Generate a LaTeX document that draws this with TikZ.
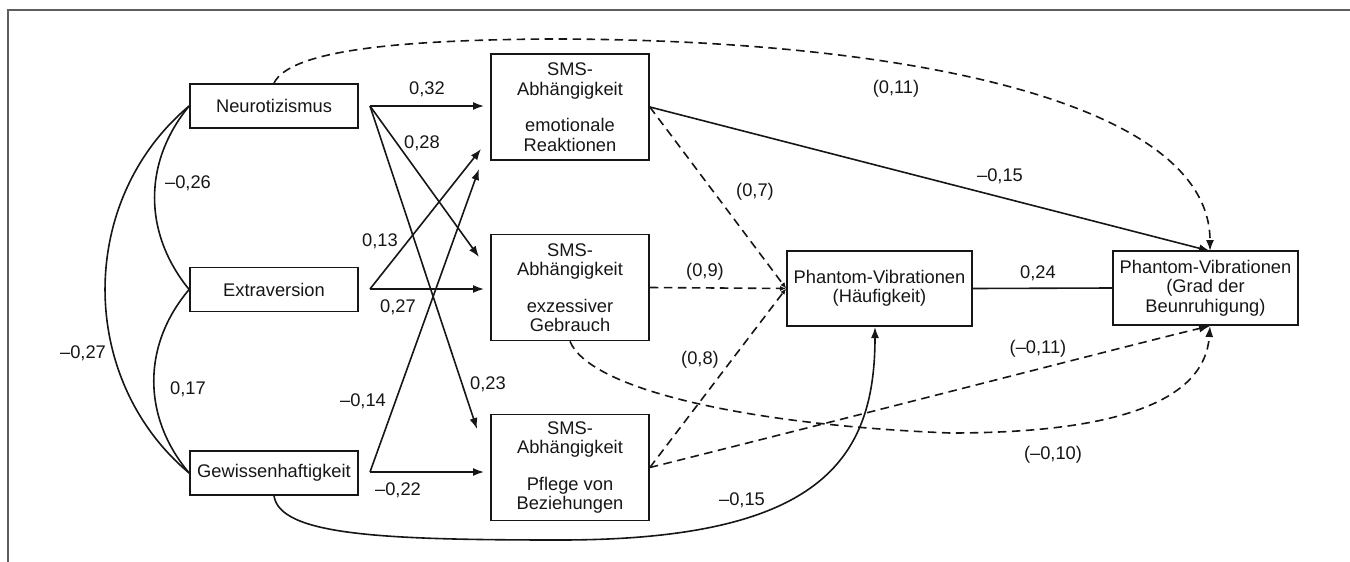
\documentclass[tikz,border=0pt]{standalone}
\usepackage{fontspec}
\setmainfont{Liberation Sans}
\usetikzlibrary{arrows.meta}
\definecolor{ink}{HTML}{161616}
\definecolor{framegray}{HTML}{5E5E5E}
\begin{document}
\begin{tikzpicture}[x=1pt,y=-1pt,
  every node/.style={text=ink},
  box/.style={draw=ink, line width=1.7pt, inner sep=0pt, align=center,
    font=\fontsize{18.3}{19.5}\selectfont},
  varbox/.style={box, minimum width=168pt, minimum height=44pt},
  smsbox/.style={box, minimum width=158pt, minimum height=106pt},
  phbox/.style={box, minimum width=185pt, minimum height=75pt},
  lbl/.style={inner sep=0pt, font=\fontsize{18.3}{19.5}\selectfont,
    text height=12.9pt, text depth=0pt},
  con/.style={draw=ink, line width=1.6pt},
  arr/.style={con, -{Latex[length=11pt,width=8pt]}},
  dsh/.style={con, dash pattern=on 8.5pt off 5.5pt},
  darr/.style={dsh, -{Latex[length=11pt,width=8pt]}},
  dsmall/.style={dsh, -{Latex[length=6pt,width=5pt]}},
  frameline/.style={draw=framegray, line width=1.6pt}
]
\useasboundingbox (0,0) rectangle (1350,562);
\draw[frameline] (1350,10) -- (8,10) -- (8,562);

% nodes
\node[varbox] (N) at (274,106) {Neurotizismus};
\node[varbox] (E) at (274,289.5) {Extraversion};
\node[varbox] (G) at (274,473) {Gewissenhaftigkeit};
\node[smsbox] (S1) at (570,107) {SMS-\\Abhängigkeit\\[17pt]emotionale\\Reaktionen};
\node[smsbox] (S2) at (570,287.5) {SMS-\\Abhängigkeit\\[17pt]exzessiver\\Gebrauch};
\node[smsbox] (S3) at (570,467.5) {SMS-\\Abhängigkeit\\[17pt]Pflege von\\Beziehungen};
\node[phbox] (P1) at (879.5,288.5) {Phantom-Vibrationen\\(Häufigkeit)};
\node[phbox, minimum height=74pt] (P2) at (1205.5,288) {Phantom-Vibrationen\\(Grad der\\Beunruhigung)};

% free ends
\coordinate (Ns) at (370,106);
\coordinate (Es) at (370,289);
\coordinate (Gs) at (370,472);
\coordinate (tNS1) at (484,106);
\coordinate (tNS2) at (479,257);
\coordinate (tNS3) at (477,429);
\coordinate (tES1) at (481,149);
\coordinate (tES2) at (484,289);
\coordinate (tGS1) at (479,169);
\coordinate (tGS3) at (484,472);
\coordinate (P2t) at (1210,251);
\coordinate (P2b) at (1210,326);
\coordinate (P1b) at (875,327);

% covariances
\draw[con] (N.west) .. controls (143,162) and (143,233) .. (E.west);
\draw[con] (N.west) .. controls (77,200) and (77,379) .. (G.west);
\draw[con] (E.west) .. controls (142,345) and (142,417) .. (G.west);

% predictors -> SMS
\draw[arr] (Ns) -- (tNS1);
\draw[arr] (Ns) -- (tNS2);
\draw[arr] (Ns) -- (tNS3);
\draw[arr] (Es) -- (tES1);
\draw[arr] (Es) -- (tES2);
\draw[arr] (Gs) -- (tGS1);
\draw[arr] (Gs) -- (tGS3);

% G -> P1
\draw[arr] (G.south) .. controls (280,535) and (380,540) .. (560,540)
  .. controls (820,540) and (875,460) .. (P1b);

% N -> P2 (dashed)
\draw[darr] (N.north) .. controls (290,50) and (400,40) .. (550,39)
  .. controls (900,39) and (1210,100) .. (P2t);

% SMS -> P1
\draw[dsmall] (S1.east) -- (P1.west);
\draw[dsmall] (S2.east) -- (P1.west);
\draw[dsmall] (S3.east) -- (P1.west);

% SMS -> P2
\draw[arr] (S1.east) -- (P2t);
\draw[darr] (S2.south) .. controls (590,390) and (750,425) .. (950,433)
  .. controls (1120,433) and (1205,400) .. (P2b);
\draw[darr] (S3.east) .. controls (900,405) and (1150,340) .. (P2b);

% P1 -- P2
\draw[con] (P1.east) -- (P2.west);

% labels
\node[lbl] (l1) at (427,88) {0,32};
\node[lbl] (l2) at (422,142) {0,28};
\node[lbl] (l3) at (380,240) {0,13};
\node[lbl] (l4) at (398,306) {0,27};
\node[lbl] (l5) at (363,400) {–0,14};
\node[lbl] (l6) at (488,383) {0,23};
\node[lbl] (l7) at (398,489) {–0,22};
\node[lbl] (l8) at (188,182) {–0,26};
\node[lbl] (l9) at (83,352) {–0,27};
\node[lbl] (l10) at (188,388) {0,17};
\node[lbl] (l11) at (755,190) {(0,7)};
\node[lbl] (l12) at (705,270) {(0,9)};
\node[lbl] (l13) at (700,358) {(0,8)};
\node[lbl] (l14) at (1000,175) {–0,15};
\node[lbl] (l15) at (1038,272) {0,24};
\node[lbl] (l16) at (896,87) {(0,11)};
\node[lbl] (l17) at (1038,347) {(–0,11)};
\node[lbl] (l18) at (1053,453) {(–0,10)};
\node[lbl] (l19) at (742,499) {–0,15};
\end{tikzpicture}
\end{document}
